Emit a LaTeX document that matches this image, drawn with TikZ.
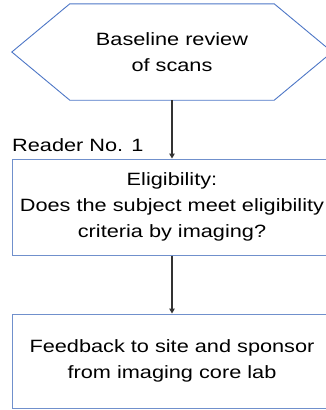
\documentclass[tikz,border=0pt]{standalone}
\usepackage{fontspec}
\setmainfont[FakeStretch=1.22]{Liberation Sans}
\usetikzlibrary{arrows.meta}
\definecolor{hexblue}{HTML}{4D76C6}
\definecolor{boxblue}{HTML}{7090CC}
\definecolor{flowgray}{HTML}{333333}
\begin{document}
\begin{tikzpicture}[x=1pt,y=-1pt,
  every node/.style={font=\fontsize{17.8pt}{25.8pt}\selectfont, text=black},
  hexlabel/.style={minimum width=204pt, minimum height=96pt, inner sep=0pt, align=center},
  hexline/.style={draw=hexblue, line width=0.9pt, line join=miter},
  stepbox/.style={draw=boxblue, line width=1pt, minimum width=320pt, inner sep=0pt, align=center},
  flow/.style={draw=flowgray, line width=1.1pt, -{Triangle[length=5pt,width=5.5pt]}}]
  \useasboundingbox (0,0) rectangle (326,410);
  \clip (0,0) rectangle (326,410);

  % start: hexagonal terminator
  \node[hexlabel] (review) at (172,52) {Baseline review\\of scans};
  \draw[hexline] (review.north west) -- (review.north east)
    -- ([xshift=58pt]review.east) -- (review.south east)
    -- (review.south west) -- ([xshift=-58pt]review.west) -- cycle;

  % reader decision box
  \node[stepbox, minimum height=96pt] (elig) at (172,207)
    {Eligibility:\\Does the subject meet eligibility\\criteria by imaging?};
  \node[anchor=base west, inner sep=0pt] (reader) at (12,151) {Reader No. 1};

  % outcome box
  \node[stepbox, minimum height=94pt] (feedback) at (172,361)
    {Feedback to site and sponsor\\from imaging core lab};

  \draw[flow] (review.south) -- (elig.north);
  \draw[flow] (elig.south) -- (feedback.north);
\end{tikzpicture}
\end{document}
